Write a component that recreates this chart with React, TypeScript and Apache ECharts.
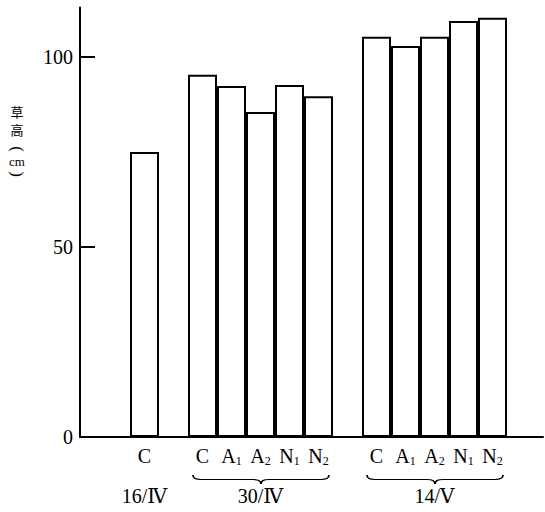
import React, { useEffect, useRef } from "react";
import * as echarts from "echarts";

// ---- data ----
const dates = ["16/Ⅳ", "30/Ⅳ", "14/Ⅴ"];
const treatmentsByDate = [
  ["C"],
  ["C", "A1", "A2", "N1", "N2"],
  ["C", "A1", "A2", "N1", "N2"],
];
const heightsByDate = [
  [75],
  [95.3, 92.4, 85.5, 92.6, 89.7],
  [105.3, 102.9, 105.3, 109.5, 110.3],
];
const yTicks = [0, 50, 100];
const yMax = 113;
const yTitleChars = ["草", "高", "(", "cm", ")"];
const leadingGap = 2;
const groupGap = 1;
const trailingGap = 1;

// build slot layout (categories with empty spacer slots)
const slotCats: string[] = [];
const slotVals: (number | null)[] = [];
const slotDates: string[] = [];
const groupRanges: [number, number][] = [];
for (let i = 0; i < leadingGap; i++) { slotCats.push(""); slotVals.push(null); slotDates.push(""); }
dates.forEach((d, gi) => {
  if (gi > 0) for (let i = 0; i < groupGap; i++) { slotCats.push(""); slotVals.push(null); slotDates.push(""); }
  const start = slotCats.length;
  const tr = treatmentsByDate[gi];
  tr.forEach((t, ti) => {
    slotCats.push(t);
    slotVals.push(heightsByDate[gi][ti]);
    slotDates.push(ti === Math.floor((tr.length - 1) / 2) ? d : "");
  });
  groupRanges.push([start, slotCats.length - 1]);
});
for (let i = 0; i < trailingGap; i++) { slotCats.push(""); slotVals.push(null); slotDates.push(""); }

const SERIF = "'Liberation Serif', 'DejaVu Serif', serif";
const SLOT = 29;
const GRID_TOP = 7.6;
const GRID_H = 429.4;

echarts.graphic.registerShape(
  "brace",
  echarts.graphic.extendPath(
    "M0,0 C0,4 2,5 6,5 L44,5 C48,5 50,6 50,10 C50,6 52,5 56,5 L94,5 C98,5 100,4 100,0",
    {}
  )
);

function catLabel(v: string) {
  if (!v) return "";
  if (v.length === 2) return `{m|${v[0]}}{s|${v[1]}}`;
  return `{m|${v}}`;
}

export default function App() {
  const ref = useRef<HTMLDivElement>(null);
  useEffect(() => {
    if (!ref.current) return;
    const chart = echarts.init(ref.current, undefined, { renderer: "svg" });
    chart.setOption({
      animation: false,
      backgroundColor: "#ffffff",
      grid: [
        { left: 72, width: SLOT * slotCats.length, top: GRID_TOP, height: GRID_H },
        { left: 80, right: 2, top: GRID_TOP, height: GRID_H },
      ],
      xAxis: [
        {
          type: "category",
          gridIndex: 0,
          data: slotCats,
          axisLine: { show: false },
          axisTick: { show: false },
          splitLine: { show: false },
          axisLabel: {
            interval: 0,
            margin: 8,
            formatter: (v: string) => catLabel(v),
            rich: {
              m: { fontFamily: SERIF, fontSize: 20, color: "#000", lineHeight: 22 },
              s: { fontFamily: SERIF, fontSize: 12, color: "#000", padding: [9, 0, 0, 0] },
            },
          },
        },
        {
          type: "category",
          gridIndex: 0,
          position: "bottom",
          offset: 40,
          data: slotDates,
          axisLine: { show: false },
          axisTick: { show: false },
          splitLine: { show: false },
          axisLabel: { interval: 0, margin: 9, fontFamily: SERIF, fontSize: 20, color: "#000" },
        },
        {
          type: "value",
          gridIndex: 1,
          axisLine: { show: true, lineStyle: { color: "#000", width: 2 } },
          axisTick: { show: false },
          axisLabel: { show: false },
          splitLine: { show: false },
        },
      ],
      yAxis: [
        {
          type: "value",
          gridIndex: 0,
          min: 0,
          max: yMax,
          show: false,
          splitLine: { show: false },
        },
        {
          type: "value",
          gridIndex: 1,
          min: 0,
          max: yMax,
          axisLine: { show: true, lineStyle: { color: "#000", width: 2 } },
          axisTick: {
            show: true,
            inside: true,
            length: 15,
            customValues: yTicks,
            lineStyle: { color: "#000", width: 2 },
          },
          axisLabel: {
            customValues: yTicks,
            margin: 7,
            fontFamily: SERIF,
            fontSize: 20,
            color: "#000",
          },
          splitLine: { show: false },
        },
      ],
      series: [
        {
          type: "bar",
          xAxisIndex: 0,
          yAxisIndex: 0,
          data: slotVals,
          barCategoryGap: "0%",
          itemStyle: { color: "#ffffff", borderColor: "#000", borderWidth: 2 },
        },
      ],
    });

    const braces: any[] = [];
    groupRanges.forEach(([s, e]) => {
      if (e - s < 1) return;
      const l = (chart.convertToPixel({ xAxisIndex: 0 }, s) as number) - SLOT / 2 + 5;
      const r = (chart.convertToPixel({ xAxisIndex: 0 }, e) as number) + SLOT / 2 - 4;
      braces.push({
        type: "brace",
        x: l,
        y: 475,
        scaleX: (r - l) / 100,
        scaleY: 0.9,
        style: { stroke: "#000", fill: "none", lineWidth: 1.5, strokeNoScale: true },
        silent: true,
      });
    });

    const titleY = [111, 129, 149, 161, 174];
    const titleTexts = yTitleChars.map((t, i) => {
      const isParen = t === "(" || t === ")";
      const txt: any = {
        type: "text",
        style: {
          text: t,
          x: 0,
          y: 0,
          fontFamily: isParen || t === "cm" ? SERIF : "'Noto Sans CJK SC', sans-serif",
          fontSize: isParen ? 17 : 13,
          fill: "#000",
          align: "center",
          verticalAlign: "middle",
        },
      };
      return {
        type: "group",
        x: 17,
        y: titleY[i],
        rotation: isParen ? -Math.PI / 2 : 0,
        children: [txt],
      };
    });

    chart.setOption({ graphic: [...braces, ...titleTexts] });
    return () => chart.dispose();
  }, []);
  return <div ref={ref} style={{ width: 545, height: 512, position: "absolute", left: 0, top: 0 }} />;
}
